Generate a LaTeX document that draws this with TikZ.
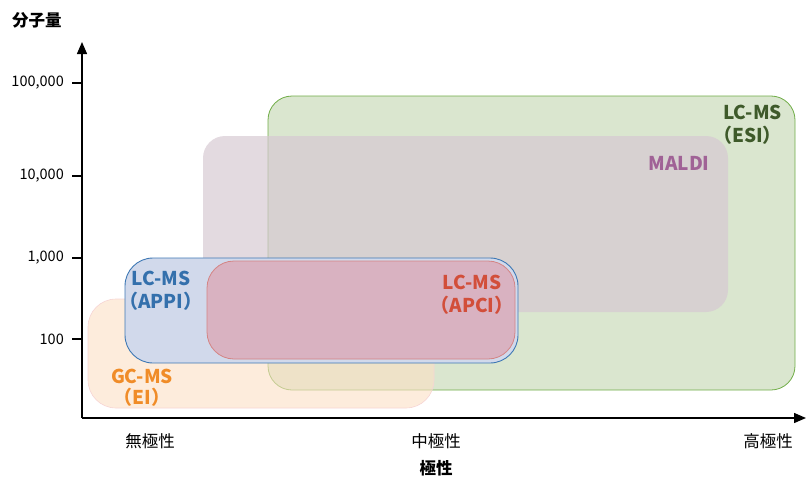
\documentclass[tikz,border=0pt]{standalone}
\usepackage{fontspec}
\setmainfont{Noto Sans CJK JP}
\usetikzlibrary{arrows.meta}
\definecolor{esiFill}{RGB}{218,230,207}
\definecolor{esiLine}{RGB}{112,173,71}
\definecolor{esiText}{RGB}{62,90,42}
\definecolor{maldiFill}{RGB}{214,200,210}
\definecolor{maldiText}{RGB}{160,98,150}
\definecolor{eiFill}{RGB}{252,224,196}
\definecolor{eiLine}{RGB}{246,212,212}
\definecolor{eiText}{RGB}{240,140,40}
\definecolor{appiFill}{RGB}{209,217,235}
\definecolor{appiLine}{RGB}{62,120,180}
\definecolor{appiText}{RGB}{52,112,172}
\definecolor{apciFill}{RGB}{217,178,193}
\definecolor{apciLine}{RGB}{212,132,132}
\definecolor{apciText}{RGB}{210,78,58}
\tikzset{
  axis/.style={line width=1.4pt, -{Triangle[width=10pt,length=12pt]}},
  tickmark/.style={line width=1.2pt},
  ticklabel/.style={anchor=east, font=\fontsize{14.5}{16}\selectfont, inner sep=0pt},
  catlabel/.style={font=\fontsize{16.5}{18}\selectfont, inner sep=0pt},
  axistitle/.style={font=\bfseries\fontsize{16.5}{18}\selectfont, inner sep=0pt},
  methodlabel/.style={font=\bfseries\fontsize{19}{22.5}\selectfont, inner sep=0pt},
}
\begin{document}
\begin{tikzpicture}[x=1pt,y=-1pt]
\useasboundingbox (0,0) rectangle (806,479);

% regions of the methods
\fill[esiFill, draw=esiLine, line width=0.8pt, rounded corners=24pt] (268,96) rectangle (795,390);
\fill[maldiFill, fill opacity=0.68, rounded corners=22pt] (203,136) rectangle (728,312);
\fill[eiFill, fill opacity=0.6, draw=eiLine, line width=0.6pt, rounded corners=28pt] (88,299) rectangle (434,408);
\fill[appiFill, draw=appiLine, line width=0.9pt, rounded corners=28pt] (125,258) rectangle (518,363);
\fill[apciFill, draw=apciLine, line width=0.8pt, rounded corners=27pt] (207,261) rectangle (515,359);

% axes
\coordinate (origin) at (82,418);
\coordinate (ytip) at (82,42);
\coordinate (xtip) at (806,418);
\draw[axis] (origin) -- (ytip);
\draw[axis] (origin) -- (xtip);

% ticks on the molecular weight axis
\foreach \yy/\lab/\nm in {83/{100,000}/a, 176/{10,000}/b, 258/{1,000}/c, 339/{100}/d}{
  \coordinate (t\nm) at (82,\yy);
  \draw[tickmark] (t\nm) -- ++(-10,0);
  \node[ticklabel] (l\nm) at (64,\yy) {\lab};
}

% axis titles and categories
\node[axistitle] (ytitle) at (37,20) {分子量};
\node[catlabel] (nonpolar) at (150,441) {無極性};
\node[catlabel] (midpolar) at (436,441) {中極性};
\node[catlabel] (highpolar) at (768,441) {高極性};
\node[axistitle] (xtitle) at (436,468) {極性};

% method labels
\node[methodlabel, text=esiText, align=right, anchor=north east] (esi) at (782,105) {LC-MS\\（ESI）};
\node[methodlabel, text=maldiText] (maldi) at (679,163) {MALDI};
\node[methodlabel, text=apciText, align=center] (apci) at (472,295) {LC-MS\\（APCI）};
\node[methodlabel, text=appiText, align=center] (appi) at (161,291) {LC-MS\\（APPI）};
\node[methodlabel, text=eiText, align=center, font=\bfseries\fontsize{19}{20.5}\selectfont] (ei) at (142,388) {GC-MS\\（EI）};
\end{tikzpicture}
\end{document}
